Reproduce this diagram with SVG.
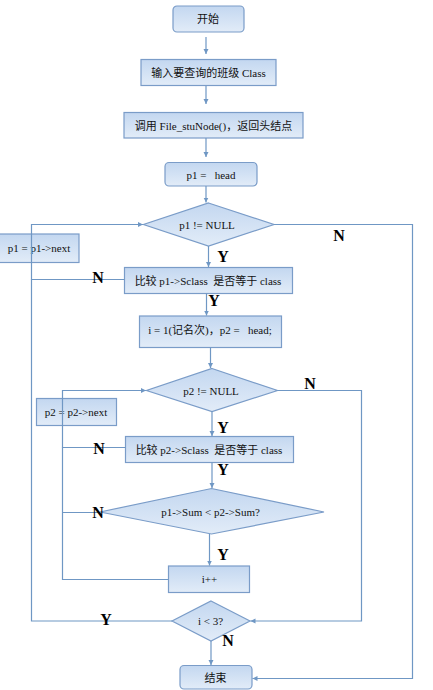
<svg xmlns="http://www.w3.org/2000/svg" width="433" height="690" viewBox="0 0 433 690">
<defs>
<linearGradient id="g" x1="0" y1="0" x2="0" y2="1">
<stop offset="0" stop-color="#c3d7f0"/>
<stop offset="1" stop-color="#e2ecf8"/>
</linearGradient>
<marker id="a" markerWidth="6" markerHeight="6" refX="5" refY="3" orient="auto" markerUnits="userSpaceOnUse">
<path d="M0,0.5 L5,3 L0,5.5 z" fill="#6f97c4"/>
</marker>
<style>
.n{fill:url(#g);stroke:#7a9cc8;stroke-width:1.2}
.t{font-family:"Liberation Serif","Noto Sans CJK SC",serif;font-size:11px;fill:#111;text-anchor:middle;dominant-baseline:central}
.c{fill:none;stroke:#6f97c4;stroke-width:1.2}
.l{font-family:"Liberation Serif",serif;font-size:16px;font-weight:bold;fill:#000;text-anchor:middle;dominant-baseline:central}
</style>
</defs>
<rect width="433" height="690" fill="#fff"/>
<g id="start"><rect class="n" x="173" y="6" width="71" height="26" rx="4"/><text class="t" x="208" y="19">开始</text></g>
<g id="input"><rect class="n" x="141" y="59.5" width="135" height="26"/><text class="t" x="208.5" y="72.5">输入要查询的班级 Class</text></g>
<g id="call"><rect class="n" x="124" y="112.5" width="179" height="25.5"/><text class="t" x="213.5" y="125.5">调用 File_stuNode()，返回头结点</text></g>
<g id="p1head"><rect class="n" x="165" y="162.5" width="92" height="23.5" rx="4"/><text class="t" x="211" y="175" xml:space="preserve">p1 =   head</text></g>
<g id="d1"><polygon class="n" points="208.5,203 274,224.5 208.5,246 143.5,224.5"/><text class="t" x="207" y="224.5">p1 != NULL</text></g>
<g id="p1next"><rect class="n" x="-1" y="234" width="80" height="28.5"/><text class="t" x="39" y="247.5">p1 = p1-&gt;next</text></g>
<g id="cmp1"><rect class="n" x="124.5" y="267.5" width="168" height="26"/><text class="t" x="208" y="280.5" xml:space="preserve">比较 p1-&gt;Sclass  是否等于 class</text></g>
<g id="init"><rect class="n" x="139.5" y="316" width="142" height="31.5"/><text class="t" x="210" y="329.5" xml:space="preserve">i = 1(记名次)，p2 =   head;</text></g>
<g id="d2"><polygon class="n" points="212,368.5 277.5,390.5 212,411.5 146.5,390.5"/><text class="t" x="211" y="390.5">p2 != NULL</text></g>
<g id="p2next"><rect class="n" x="36.5" y="398.5" width="80" height="27"/><text class="t" x="76" y="412">p2 = p2-&gt;next</text></g>
<g id="cmp2"><rect class="n" x="125.5" y="436.5" width="168" height="26"/><text class="t" x="209" y="449.5" xml:space="preserve">比较 p2-&gt;Sclass  是否等于 class</text></g>
<g id="d3"><polygon class="n" points="211.5,488.5 324,512 211.5,534 100,512"/><text class="t" x="210.5" y="512">p1-&gt;Sum &lt; p2-&gt;Sum?</text></g>
<g id="inc"><rect class="n" x="168.5" y="566" width="81" height="26.5"/><text class="t" x="209.5" y="579">i++</text></g>
<g id="d4"><polygon class="n" points="211,601 250,621 211,641 172,621"/><text class="t" x="210.5" y="621">i &lt; 3?</text></g>
<g id="end"><rect class="n" x="180" y="665.5" width="72" height="23.5" rx="4"/><text class="t" x="215.5" y="678">结束</text></g>
<g id="connectors">
<path class="c" marker-end="url(#a)" d="M206,37 V54"/>
<path class="c" marker-end="url(#a)" d="M206,86 V104"/>
<path class="c" marker-end="url(#a)" d="M206,138 V157"/>
<path class="c" marker-end="url(#a)" d="M206,186 V202.5"/>
<path class="c" marker-end="url(#a)" d="M208.5,246 V267"/>
<path class="c" marker-end="url(#a)" d="M206.5,293.5 V315.5"/>
<path class="c" marker-end="url(#a)" d="M210.5,347.5 V368"/>
<path class="c" marker-end="url(#a)" d="M212,411.5 V436"/>
<path class="c" marker-end="url(#a)" d="M212,462.5 V488"/>
<path class="c" marker-end="url(#a)" d="M209.5,534 V565.5"/>
<path class="c" marker-end="url(#a)" d="M211,641 V665"/>
<path class="c" marker-end="url(#a)" d="M274,224.5 H412.5 V678.5 H252.5"/>
<path class="c" marker-end="url(#a)" d="M124.5,279.5 H31.5 V224.5 H143"/>
<path class="c" d="M172,621 H31.5 V279.5"/>
<path class="c" marker-end="url(#a)" d="M277.5,390.5 H361.5 V621 H250.5"/>
<path class="c" marker-end="url(#a)" d="M125.5,447.5 H62.5 V390.5 H146"/>
<path class="c" d="M100,512.5 H62.5"/>
<path class="c" d="M168.5,579.5 H62.5 V447.5"/>
</g>
<g id="labels">
<text class="l" x="339" y="235">N</text>
<text class="l" x="223" y="256">Y</text>
<text class="l" x="98" y="277">N</text>
<text class="l" x="214" y="300">Y</text>
<text class="l" x="310" y="383">N</text>
<text class="l" x="223" y="427">Y</text>
<text class="l" x="99" y="448">N</text>
<text class="l" x="223" y="469">Y</text>
<text class="l" x="98" y="512">N</text>
<text class="l" x="223" y="554">Y</text>
<text class="l" x="106" y="619">Y</text>
<text class="l" x="228" y="640">N</text>
</g>
</svg>
